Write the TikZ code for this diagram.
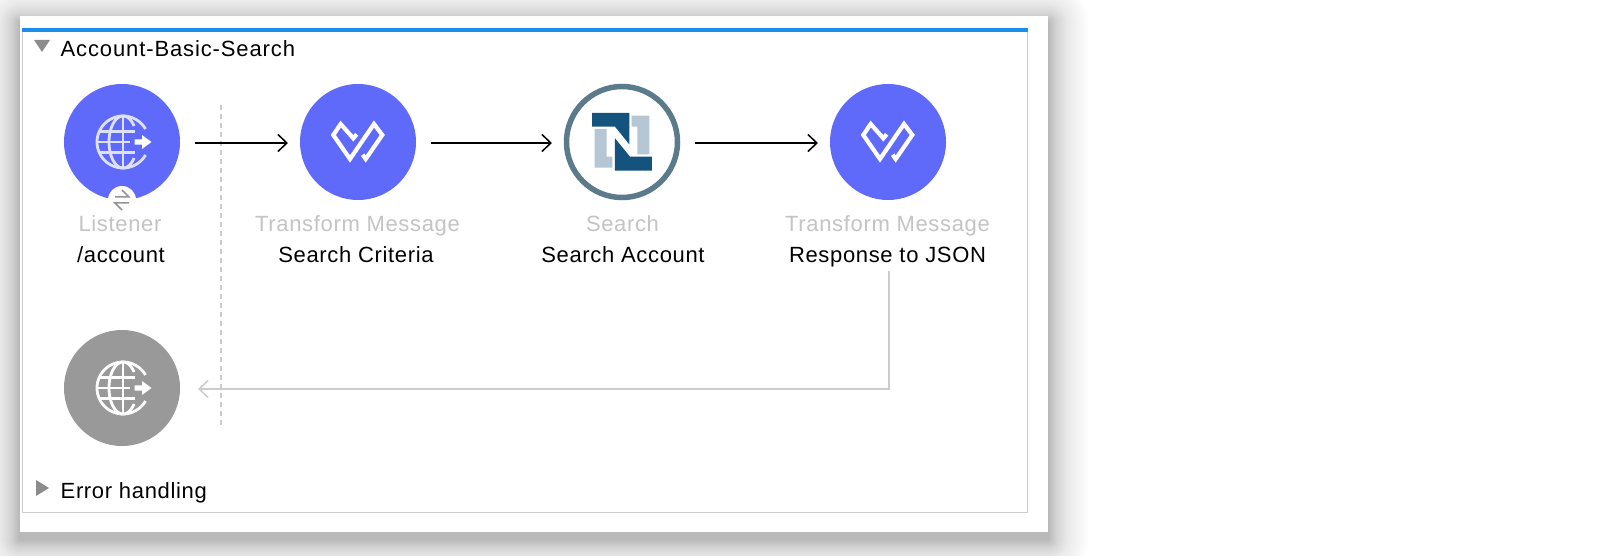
\documentclass[tikz,border=0pt]{standalone}
\usepackage{fontspec}
\setmainfont[LetterSpace=3]{Liberation Sans}
\newfontfamily\widerfont[LetterSpace=4]{Liberation Sans}
\usetikzlibrary{arrows.meta}
\definecolor{mule}{HTML}{5F6AFB}
\definecolor{ringc}{HTML}{5B7B8D}
\definecolor{nsdark}{HTML}{15537F}
\definecolor{nslight}{HTML}{B5C6D5}
\definecolor{labgray}{HTML}{C4C4C4}
\definecolor{linegray}{HTML}{CCCCCC}
\definecolor{topbar}{HTML}{1B8EEC}
\definecolor{globeline}{HTML}{DEE1FB}
\definecolor{tri}{HTML}{8C8C8C}
\tikzset{
  x=1pt,y=-1pt,
  flownode/.style={circle,minimum size=116pt,inner sep=0pt,outer sep=0pt},
  muleblue/.style={flownode,fill=mule},
  graynode/.style={flownode,fill=black!40},
  nsnode/.style={circle,minimum size=111pt,inner sep=0pt,outer sep=2.5pt,fill=white,draw=ringc,line width=5.5pt},
  typelabel/.style={anchor=base,inner sep=0pt,text=labgray,font=\fontsize{22}{24}\selectfont},
  namelabel/.style={anchor=base,inner sep=0pt,text=black,font=\fontsize{22}{24}\selectfont},
  headlabel/.style={anchor=base west,inner sep=0pt,text=black,font=\widerfont\fontsize{22}{24}\selectfont},
  flowarrow/.style={draw=black,line width=1.5pt,-{Straight Barb[length=9pt,width=17pt,line width=1.5pt]}},
  backarrow/.style={draw=linegray,line width=1.5pt,-{Straight Barb[length=9pt,width=17pt,line width=1.5pt]}},
  tmicon/.pic={
    \draw[white,line width=4.2pt,miter limit=6,line join=miter]
      (-1.3,-7.7) -- (-4.7,-3.7) -- (-17.3,-18) -- (-24.7,-7) -- (-8,17) -- (16,-18) -- (24.3,-7) -- (7.7,17) -- (4.7,12.7);
  },
  globeicon/.pic={
    \begin{scope}[draw=#1,line width=2.8pt]
      \draw plot[domain=30:330,samples=61,variable=\t] ({26*cos(\t)},{26*sin(\t)});
      \draw (0,-26) -- (0,26);
      \draw plot[domain=90:270,samples=31,variable=\t] ({14*cos(\t)},{26*sin(\t)});
      \draw plot[domain=38:90,samples=15,variable=\t] ({14*cos(\t)},{26*sin(\t)});
      \draw plot[domain=-90:-38,samples=15,variable=\t] ({14*cos(\t)},{26*sin(\t)});
      \draw (-23,-10.5) -- (12,-10.5);
      \draw (-23,10.5) -- (12,10.5);
      \draw (-26,0) -- (7,0);
    \end{scope}
    \fill[white] (11.5,-2.6) -- (19,-2.6) -- (19,-7) -- (28.5,0) -- (19,7) -- (19,2.6) -- (11.5,2.6) -- cycle;
  }
}
\begin{document}
\begin{tikzpicture}
\useasboundingbox (0,0) rectangle (1618,556);
\fill[white] (0,0) rectangle (1618,556);
% soft shadow of the card
\foreach \r in {60,59,...,1}{
  \pgfmathsetmacro{\a}{0.016*exp(-\r/20)}
  \fill[black,fill opacity=\a,rounded corners=\r pt] (20-\r,16+7-\r) rectangle (1048+\r,532+7+\r);
}
\fill[white] (20,16) rectangle (1048,532);
% flow frame
\draw[linegray,line width=1.5pt] (22.7,30) -- (22.7,512.5) -- (1027.3,512.5) -- (1027.3,30);
\fill[topbar] (22,28) rectangle (1028,32);
% collapse triangles
\fill[tri] (34,40) -- (50,40) -- (42,52) -- cycle;
\fill[tri] (36,480) -- (49,488) -- (36,496) -- cycle;
\node[headlabel] (title) at (60.5,56.5) {Account-Basic-Search};
\node[namelabel,anchor=base west] (errors) at (60.5,498) {Error handling};
% dashed separator
\coordinate (septop) at (221,105);
\coordinate (sepbot) at (221,427);
\draw[linegray,line width=1.5pt,dash pattern=on 5pt off 4pt] (septop) -- (sepbot);
% nodes
\node[muleblue] (listener) at (122,142) {};
\node[muleblue] (tmone) at (358,142) {};
\node[nsnode] (search) at (622,142) {};
\node[muleblue] (tmtwo) at (888,142) {};
\node[graynode] (response) at (122,388) {};
% icons
\pic at (123,142) {globeicon=globeline};
\pic at (123,388) {globeicon=white};
\pic at (358,142) {tmicon};
\pic at (888,142) {tmicon};
% NetSuite mark
\begin{scope}[shift={(550,75)},x=0.3333pt,y=-0.3333pt]
  \fill[nslight] (134,162) -- (170,162) -- (170,245) -- (187,245) -- (187,278) -- (134,278) -- cycle;
  \fill[nslight] (245,122) -- (298,122) -- (298,238) -- (262,238) -- (262,155) -- (245,155) -- cycle;
  \fill[nsdark] (126,114) -- (238,114) -- (238,208) -- (195,155) -- (126,155) -- cycle;
  \fill[nsdark] (195,190) -- (240,245) -- (306,245) -- (306,287) -- (195,287) -- cycle;
\end{scope}
% listener badge
\node[circle,fill=white,minimum size=28pt,inner sep=0pt] (badge) at (122,200) {};
\draw[black!42,line width=1.5pt] (115,197) -- (129,197) -- (122,190);
\draw[black!42,line width=1.5pt] (129,203) -- (115,203) -- (122,210);
% labels
\node[typelabel] (l1) at (120,232) {Listener};
\node[namelabel] (n1) at (121,262) {/account};
\node[typelabel] (l2) at (357.5,232) {Transform Message};
\node[namelabel] (n2) at (356,262) {Search Criteria};
\node[typelabel] (l3) at (622.5,232) {Search};
\node[namelabel] (n3) at (623,262) {Search Account};
\node[typelabel] (l4) at (887.5,232) {Transform Message};
\node[namelabel] (n4) at (887.5,262) {Response to JSON};
% connectors
\draw[flowarrow,shorten <=15pt,shorten >=12pt] ([yshift=-1pt]listener.east) -- ([yshift=-1pt]tmone.west);
\draw[flowarrow,shorten <=15pt,shorten >=12pt] ([yshift=-1pt]tmone.east) -- ([yshift=-1pt]search.west);
\draw[flowarrow,shorten <=15pt,shorten >=12pt] ([yshift=-1pt]search.east) -- ([yshift=-1pt]tmtwo.west);
\draw[backarrow,shorten >=18pt] ([xshift=1.5pt,yshift=-4pt]n4.south) |- ([yshift=-1pt]response.east);
\end{tikzpicture}
\end{document}
